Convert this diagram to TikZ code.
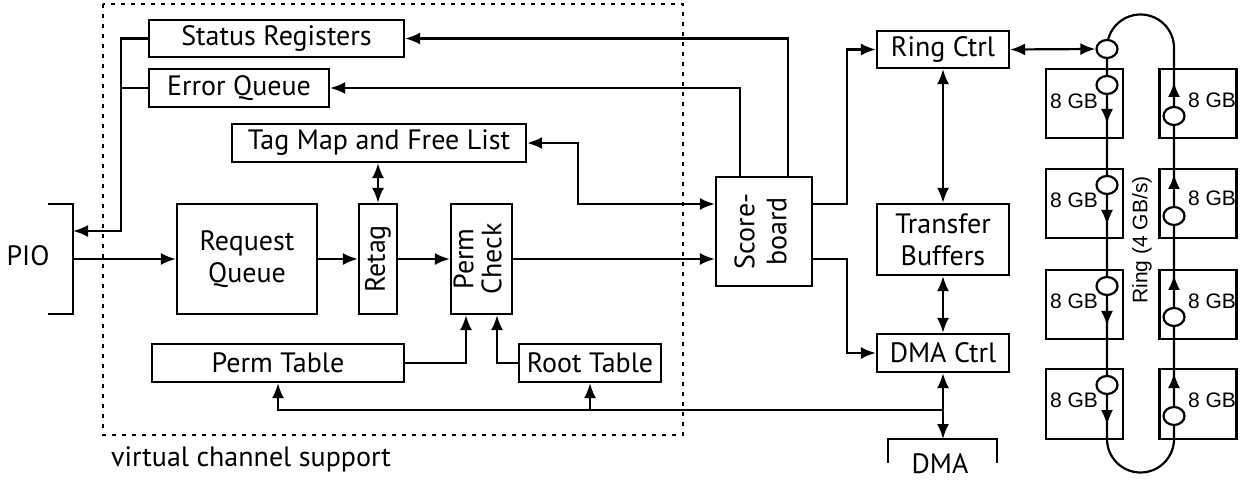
\documentclass[tikz,border=0pt]{standalone}
\usepackage{fontspec}
\setmainfont{PT Sans}
\newfontfamily\arialfont{Liberation Sans}
\usetikzlibrary{arrows.meta,shapes.geometric}

\begin{document}
\begin{tikzpicture}[x=0.5pt, y=-0.5pt, line width=1.1pt, >={Latex[length=7.5pt,width=6pt]},
        lbl/.style={inner sep=0pt, align=center, font=\fontsize{14}{16}\selectfont},
        blk/.style={lbl, draw},
        mem/.style={draw, minimum width=38.5pt, minimum height=34.75pt},
        tap/.style={draw, fill=white, ellipse, inner sep=0pt, minimum width=10.5pt, minimum height=9pt},
        gb/.style={inner sep=0pt, font=\arialfont\fontsize{10.5}{12}\selectfont}]
        \useasboundingbox (0,0) rectangle (1241,480);

        % virtual channel support
        \draw [dash pattern=on 2pt off 3pt] (103,4) rectangle (683,435);
        \node [lbl] (vcs) at (251,459) {virtual channel support};

        \node [blk, minimum width=127.5pt, minimum height=18.5pt] (stat) at (276.5,38.5) {Status Registers};
        \node [blk, minimum width=90pt, minimum height=19pt] (errq) at (239,88) {Error Queue};
        \node [blk, minimum width=147pt, minimum height=19pt] (tagmap) at (379,143) {Tag Map and Free List};
        \node [blk, minimum width=70pt, minimum height=55pt] (reqq) at (247,259) {Request\\Queue};
        \node [blk, minimum width=19pt, minimum height=55pt] (retag) at (378,259) {\rotatebox{90}{Retag}};
        \node [blk, minimum width=30.5pt, minimum height=55pt] (perm) at (481.5,259)
            {\rotatebox{90}{\renewcommand{\arraystretch}{0.85}\begin{tabular}{@{}c@{}}Perm\\Check\end{tabular}}};
        \node [blk, minimum width=126pt, minimum height=19pt] (permtab) at (278,363) {Perm Table};
        \node [blk, minimum width=71pt, minimum height=19pt] (roottab) at (590,363) {Root Table};
        \node [blk, minimum width=48pt, minimum height=54.5pt] (score) at (764,231.5)
            {\rotatebox{90}{\begin{tabular}{@{}c@{}}Score-\\board\end{tabular}}};
        \node [blk, minimum width=66pt, minimum height=18.5pt] (ringctrl) at (943,49.5) {Ring Ctrl};
        \node [blk, minimum width=66pt, minimum height=35.5pt] (xfer) at (943,239.5) {Transfer\\Buffers};
        \node [blk, minimum width=66pt, minimum height=19pt] (dmactrl) at (943,353) {DMA Ctrl};

        % PIO port
        \node [lbl] (pio) at (28,256) {PIO};
        \draw (48,204) -- (73,204) -- (73,314) -- (48,314);
        \coordinate (pioin) at (73,259);
        \coordinate (pioout) at (73,231);
        \coordinate (bus) at (121,231);
        \draw [->] (pioin) -- (reqq);
        \draw [->] (stat.west) -| (bus) -- (pioout);
        \draw (errq.west) -- (errq.west -| bus);

        \draw [->] (reqq) -- (retag);
        \draw [->] (retag) -- (perm);
        \draw [<->] (tagmap.south -| retag.north) -- (retag.north);
        \draw [->] (perm) -- (perm -| score.west);
        \draw [->] (permtab.east) -| ([xshift=-7.75pt]perm.south);
        \draw [->] (roottab.west) -| ([xshift=7.75pt]perm.south);
        \draw [<->] (tagmap.east) -- ++(51,0) |- ([yshift=13.75pt]score.west);
        \draw [->] ([xshift=-12pt]score.north) |- (errq.east);
        \draw [->] ([xshift=12pt]score.north) |- (stat.east);
        \draw [->] ([yshift=13.75pt]score.east) -- ++(34,0) |- (ringctrl.west);
        \draw [->] ([yshift=-13.75pt]score.east) -- ++(34,0) |- (dmactrl.west);
        \draw [<->] (ringctrl) -- (xfer);
        \draw [<->] (xfer) -- (dmactrl);

        % DMA port
        \coordinate (dmaport) at (943,439);
        \coordinate (tap) at (943,410);
        \draw (888,463) -- (888,439) -- (997,439) -- (997,463);
        \node [lbl] (dma) at (940,464) {DMA};
        \draw [<->] (dmactrl) -- (dmaport);
        \draw [->] (tap) -| (permtab.south);
        \draw [->] (roottab.south |- tap) -- (roottab.south);

        % memory ring
        \node [mem] (m1) at (1084.5,103.5) {};
        \node [mem] (m2) at (1084.5,203.5) {};
        \node [mem] (m3) at (1084.5,304.5) {};
        \node [mem] (m4) at (1084.5,404) {};
        \node [mem] (m5) at (1198,103.5) {};
        \node [mem] (m6) at (1198,203.5) {};
        \node [mem] (m7) at (1198,304.5) {};
        \node [mem] (m8) at (1198,404) {};
        \draw (1107,48) arc [start angle=180, end angle=0, radius=16.75pt] -- (1174,439)
            arc [start angle=0, end angle=-180, radius=16.75pt] -- cycle;
        \node [gb, rotate=90] (ringlbl) at (1142,240) {Ring (4 GB/s)};

        \node [tap] (ringtap) at (1107,49) {};
        \draw [<->] (ringctrl.east) -- (ringtap.west);

        \node [tap] (c1) at (1107,85) {};
        \node [tap] (c2) at (1107,185) {};
        \node [tap] (c3) at (1107,286) {};
        \node [tap] (c4) at (1107,385) {};
        \node [tap] (c5) at (1174,116) {};
        \node [tap] (c6) at (1174,216) {};
        \node [tap] (c7) at (1174,317) {};
        \node [tap] (c8) at (1174,416) {};
        \draw [->] (c1) -- (1107,124);
        \draw [->] (c2) -- (1107,225);
        \draw [->] (c3) -- (1107,326);
        \draw [->] (c4) -- (1107,425);
        \draw [->] (c5) -- (1174,82);
        \draw [->] (c6) -- (1174,174);
        \draw [->] (c7) -- (1174,275);
        \draw [->] (c8) -- (1174,373);
        \node [gb, anchor=east] (g1) at (1099,101) {8 GB};
        \node [gb, anchor=east] (g2) at (1099,200) {8 GB};
        \node [gb, anchor=east] (g3) at (1099,301) {8 GB};
        \node [gb, anchor=east] (g4) at (1099,400) {8 GB};
        \node [gb, anchor=west] (g5) at (1187,100) {8 GB};
        \node [gb, anchor=west] (g6) at (1187,198) {8 GB};
        \node [gb, anchor=west] (g7) at (1187,301) {8 GB};
        \node [gb, anchor=west] (g8) at (1187,400) {8 GB};
    \end{tikzpicture}
\end{document}
